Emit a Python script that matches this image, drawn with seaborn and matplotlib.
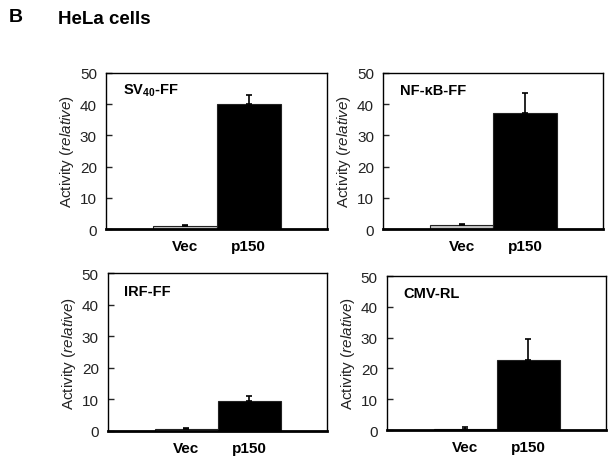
import matplotlib
matplotlib.use('Agg')
import pandas as pd
import matplotlib.pyplot as plt
import seaborn as sns

# data
conditions = ['Vec', 'p150']
panel_labels = [r'SV$_{\mathbf{40}}$-FF', 'NF-κB-FF', 'IRF-FF', 'CMV-RL']
means = [
    [1.0, 40.0],
    [1.2, 37.0],
    [0.5, 9.5],
    [0.5, 22.8],
]
errors = [
    [0.3, 3.0],
    [0.3, 6.5],
    [0.3, 1.7],
    [0.4, 6.6],
]
yticks = [0, 10, 20, 30, 40, 50]

sns.set_style('white')
plt.rcParams['font.family'] = ['Liberation Sans', 'DejaVu Sans']
plt.rcParams['mathtext.fontset'] = 'custom'
plt.rcParams['mathtext.rm'] = 'Liberation Sans'
plt.rcParams['mathtext.it'] = 'Liberation Sans:italic'
plt.rcParams['mathtext.bf'] = 'Liberation Sans:bold'

fig = plt.figure(figsize=(6.16, 4.64), dpi=100)

# axes positions [left, bottom, width, height] in figure fractions
positions = [
    [0.172, 0.504, 0.359, 0.337],
    [0.622, 0.504, 0.357, 0.337],
    [0.175, 0.069, 0.356, 0.340],
    [0.628, 0.071, 0.356, 0.332],
]
palette = {'Vec': '#c4c4c4', 'p150': '#000000'}

for i in range(4):
    ax = fig.add_axes(positions[i])
    df = pd.DataFrame({'cond': conditions, 'val': means[i]})
    sns.barplot(data=df, x='cond', y='val', hue='cond', palette=palette,
                width=1.0, edgecolor='#222222', linewidth=0.8, dodge=False,
                legend=False, ax=ax)
    ax.errorbar(range(len(conditions)), means[i], yerr=[[0, 0], errors[i]],
                fmt='none', ecolor='black', elinewidth=1.2, capsize=2.5,
                capthick=1.2)
    ax.set_xlim(-1.24, 2.23)
    ax.set_ylim(0, 50)
    ax.set_yticks(yticks)
    ax.tick_params(axis='y', direction='in', length=4, width=1, left=True,
                   labelsize=11, labelcolor='#222222', pad=6.5)
    ax.tick_params(axis='x', length=0, labelsize=11, pad=7, labelcolor='black')
    for lab in ax.get_xticklabels():
        lab.set_fontweight('bold')
    ax.set_xlabel('')
    ax.set_ylabel(r'Activity ($\it{relative}$)', fontsize=11, color='#222222',
                  labelpad=3)
    for side in ['top', 'right', 'left']:
        ax.spines[side].set_visible(True)
        ax.spines[side].set_color('black')
        ax.spines[side].set_linewidth(1.0)
    ax.spines['bottom'].set_color('black')
    ax.spines['bottom'].set_linewidth(2.0)
    ax.text(0.075, 0.89, panel_labels[i], transform=ax.transAxes, fontsize=10.5,
            fontweight='bold', va='center', ha='left', color='black')

fig.text(0.015, 0.962, 'B', fontsize=14, fontweight='bold', va='center', color='black')
fig.text(0.094, 0.958, 'HeLa cells', fontsize=13.5, fontweight='bold', va='center',
         color='black')

fig.savefig('out.png', dpi=100)
plt.close(fig)
